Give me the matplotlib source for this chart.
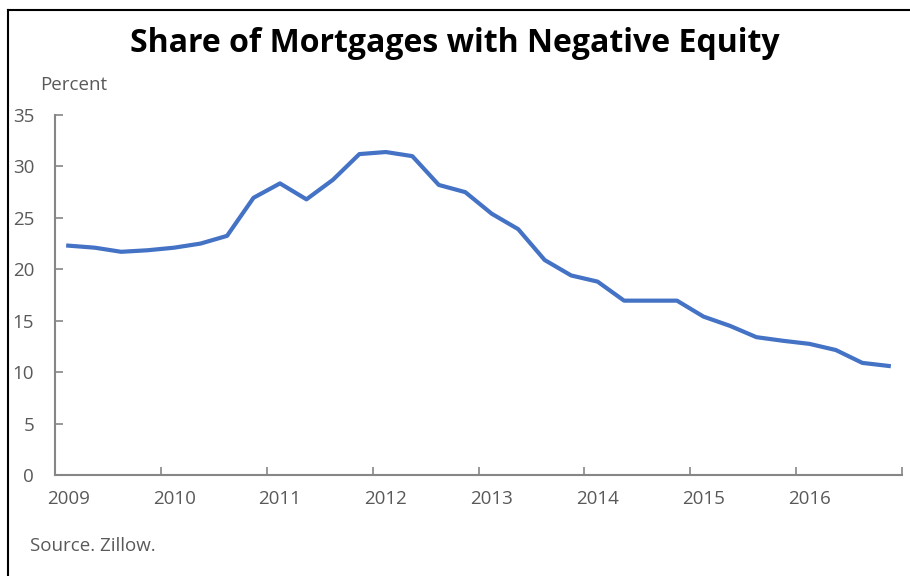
import matplotlib.pyplot as plt
from matplotlib.lines import Line2D
import numpy as np

# quarterly share of mortgages with negative equity, 2009Q1 - 2016Q4
years = ["2009", "2010", "2011", "2012", "2013", "2014", "2015", "2016"]
share = [22.3, 22.1, 21.7, 21.85, 22.1, 22.5, 23.25, 26.95,
         28.35, 26.8, 28.7, 31.2, 31.4, 31.0, 28.2, 27.5,
         25.4, 23.9, 20.9, 19.4, 18.8, 16.95, 16.95, 16.95,
         15.4, 14.5, 13.4, 13.05, 12.75, 12.15, 10.9, 10.6]
yticks = [0, 5, 10, 15, 20, 25, 30, 35]

grey = "#595959"
axis_grey = "#868686"
plt.rcParams['font.family'] = ['Open Sans', 'DejaVu Sans']

fig = plt.figure(figsize=(9.1, 5.76), dpi=100)
ax = fig.add_axes([55/910, 1 - 475/576, 847/910, 360/576])

x = np.arange(len(share))
ax.plot(x, share, color="#4472C4", linewidth=3, solid_joinstyle="round")

ax.set_xlim(-0.5, len(share) - 0.5)
ax.set_ylim(0, 35)

# tick marks between years, labels under the first quarter of each year
ax.set_xticks(np.arange(-0.5, len(share), 4))
ax.set_xticklabels([])
ax.set_xticks(np.arange(0, len(share), 4), minor=True)
ax.set_xticklabels(years, minor=True)
ax.tick_params(axis="x", which="major", direction="in", length=6, width=1.2, color=axis_grey)
ax.tick_params(axis="x", which="minor", length=0, pad=11, labelsize=13.5, labelcolor=grey)

ax.set_yticks(yticks)
ax.tick_params(axis="y", direction="in", length=6, width=1.2, color=axis_grey,
               pad=15, labelsize=13.5, labelcolor=grey)

for s in ["top", "right"]:
    ax.spines[s].set_visible(False)
for s in ["left", "bottom"]:
    ax.spines[s].set_color(axis_grey)
    ax.spines[s].set_linewidth(1.5)

fig.text(0.5, 1 - 44/576, "Share of Mortgages with Negative Equity",
         ha="center", va="center", fontsize=23, fontweight="bold", color="black")
fig.text(40/910, 1 - 85/576, "Percent", ha="left", va="center", fontsize=13.5, color=grey)
fig.text(30/910, 1 - 546/576, "Source. Zillow.", ha="left", va="center", fontsize=13.5, color=grey)

# frame lines on the left and top edges
fig.add_artist(Line2D([8/910, 8/910], [0, 1 - 10/576], transform=fig.transFigure,
                      color="black", linewidth=1.5))
fig.add_artist(Line2D([8/910, 1], [1 - 10/576, 1 - 10/576], transform=fig.transFigure,
                      color="black", linewidth=1.5))

fig.savefig("out.png", dpi=100)
